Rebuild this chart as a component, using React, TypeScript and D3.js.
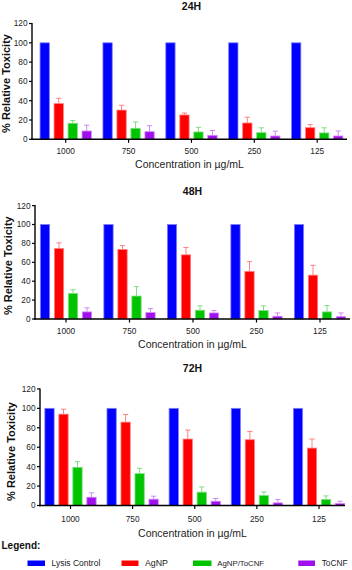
import React from "react";
import * as d3 from "d3";

const categories = ["1000", "750", "500", "250", "125"];
const seriesNames = ["Lysis Control", "AgNP", "AgNP/ToCNF", "ToCNF"];
const yTicks = [0, 20, 40, 60, 80, 100, 120];

// 24H
const lysis24 = [100, 100, 100, 100, 100];
const agnp24 = [37, 30.3, 25.2, 16.9, 12];
const agnp24Err = [5.5, 5, 2, 6, 3.2];
const combo24 = [16.6, 11.4, 7.6, 6.9, 6.6];
const combo24Err = [2.8, 6.5, 4.8, 5, 5.3];
const tocnf24 = [8.6, 7.9, 4.1, 3.4, 3.4];
const tocnf24Err = [6, 6.2, 5, 5, 5.2];

// 48H
const lysis48 = [100, 100, 100, 100, 100];
const agnp48 = [74.6, 73.6, 67.9, 50.4, 46.4];
const agnp48Err = [6, 4, 7.8, 10.3, 10.4];
const combo48 = [27.1, 24.3, 9.3, 8.9, 7.5];
const combo48Err = [3.9, 10, 4.6, 5, 6.8];
const tocnf48 = [7.5, 6.8, 6.4, 2.9, 2.5];
const tocnf48Err = [4.3, 4.2, 2.5, 3.5, 3.9];

// 72H
const lysis72 = [100, 100, 100, 100, 100];
const agnp72 = [94, 85.8, 68.4, 67.7, 59.1];
const agnp72Err = [5.1, 7.9, 9.2, 8.5, 9.3];
const combo72 = [39.3, 32.8, 13.7, 10.3, 6.2];
const combo72Err = [5.8, 5.5, 5.4, 3.7, 3.7];
const tocnf72 = [8.5, 6.5, 4.4, 2.7, 2];
const tocnf72Err = [4.5, 3.1, 2.8, 3.5, 2.4];

const colors = ["#0000ff", "#ff0000", "#00c400", "#a010ee"];
const lightColors = ["#8080ff", "#ff8080", "#80dd80", "#d088f6"];

const FONT = "'Liberation Sans', Arial, sans-serif";

const panels = [
  {
    title: "24H",
    values: [lysis24, agnp24, combo24, tocnf24],
    errors: [null, agnp24Err, combo24Err, tocnf24Err],
    axisX: 32, xEnd: 347, y0: 139.3, y120: 23.5,
    c0: 65.7, c4: 317.2,
    titleY: 9.5, titleX: 191.5, tickLabelY: 153.5, xLabelY: 168, yLabelX: 6.5, yLabelY: 83.5,
  },
  {
    title: "48H",
    values: [lysis48, agnp48, combo48, tocnf48],
    errors: [null, agnp48Err, combo48Err, tocnf48Err],
    axisX: 35, xEnd: 350, y0: 319, y120: 205.6,
    c0: 66, c4: 320,
    titleY: 194.5, titleX: 192.5, tickLabelY: 333.5, xLabelY: 348, yLabelX: 8.5, yLabelY: 265.7,
  },
  {
    title: "72H",
    values: [lysis72, agnp72, combo72, tocnf72],
    errors: [null, agnp72Err, combo72Err, tocnf72Err],
    axisX: 40, xEnd: 345, y0: 505.5, y120: 388.9,
    c0: 70.5, c4: 319,
    titleY: 372, titleX: 192.5, tickLabelY: 521.5, xLabelY: 537, yLabelX: 11.5, yLabelY: 451.5,
  },
];

const BAR_W = 9.3;
const BAR_STEP = 14;

function Panel({ p }: { p: typeof panels[number] }) {
  const y = d3.scaleLinear().domain([0, 120]).range([p.y0, p.y120]);
  const x = d3
    .scalePoint<string>()
    .domain(categories)
    .range([p.c0, p.c4]);
  const inner = d3
    .scalePoint<number>()
    .domain([0, 1, 2, 3])
    .range([-1.5 * BAR_STEP, 1.5 * BAR_STEP]);

  return (
    <g>
      <text x={p.titleX} y={p.titleY} textAnchor="middle" fontFamily={FONT} fontWeight="bold" fontSize={10.5} fill="#111">
        {p.title}
      </text>
      {/* bars */}
      {p.values.map((vals, si) =>
        vals.map((v, ci) => {
          const cx = (x(categories[ci]) as number) + (inner(si) as number);
          const err = p.errors[si];
          const top = y(v);
          return (
            <g key={`${si}-${ci}`}>
              {err && (
                <g stroke={lightColors[si]} strokeWidth={1}>
                  <line x1={cx} x2={cx} y1={top} y2={y(v + err[ci])} />
                  <line x1={cx - 2.6} x2={cx + 2.6} y1={y(v + err[ci])} y2={y(v + err[ci])} />
                </g>
              )}
              <rect
                x={cx - BAR_W / 2}
                y={top}
                width={BAR_W}
                height={p.y0 - top}
                fill={colors[si]}
                stroke={lightColors[si]}
                strokeWidth={0.8}
              />
            </g>
          );
        })
      )}
      {/* y axis */}
      <line x1={p.axisX} x2={p.axisX} y1={y(120) - 0.5} y2={p.y0 + 0.7} stroke="#000" strokeWidth={1.4} />
      {yTicks.map((t) => (
        <g key={t}>
          <line x1={p.axisX - 3} x2={p.axisX} y1={y(t)} y2={y(t)} stroke="#000" strokeWidth={1.2} />
          <text x={p.axisX - 4.5} y={y(t)} dy="0.35em" textAnchor="end" fontFamily={FONT} fontSize={8.3} fill="#222">
            {t}
          </text>
        </g>
      ))}
      {/* x axis */}
      <line x1={p.axisX - 0.7} x2={p.xEnd} y1={p.y0} y2={p.y0} stroke="#000" strokeWidth={1.4} />
      {categories.map((c) => (
        <g key={c}>
          <line x1={x(c) as number} x2={x(c) as number} y1={p.y0} y2={p.y0 + 3.5} stroke="#000" strokeWidth={1.2} />
          <text x={x(c) as number} y={p.tickLabelY} textAnchor="middle" fontFamily={FONT} fontSize={8.3} fill="#222">
            {c}
          </text>
        </g>
      ))}
      <text x={(p.axisX + p.xEnd) / 2} y={p.xLabelY} textAnchor="middle" fontFamily={FONT} fontSize={10.5} fill="#222">
        Concentration in µg/mL
      </text>
      <text
        transform={`translate(${p.yLabelX},${p.yLabelY}) rotate(-90)`}
        textAnchor="middle"
        dy="0.35em"
        fontFamily={FONT}
        fontWeight="bold"
        fontSize={11}
        fill="#111"
      >
        % Relative Toxicity
      </text>
    </g>
  );
}

const legendPos = [
  { sx: 27.5, sw: 17.5, tx: 51.5, fs: 8.5 },
  { sx: 121.5, sw: 17, tx: 145, fs: 8.8 },
  { sx: 193, sw: 18.5, tx: 217.3, fs: 7.8 },
  { sx: 298.3, sw: 16.7, tx: 321.7, fs: 8.3 },
];

export default function App() {
  return (
    <svg width={352} height={570} style={{ position: "absolute", left: 0, top: 0, background: "#fff" }}>
      {panels.map((p) => (
        <Panel key={p.title} p={p} />
      ))}
      <text x={1.5} y={549} fontFamily={FONT} fontWeight="bold" fontSize={10} fill="#111">
        Legend:
      </text>
      {seriesNames.map((s, i) => (
        <g key={s}>
          <rect x={legendPos[i].sx} y={560.5} width={legendPos[i].sw} height={5.5} fill={colors[i]} />
          <text x={legendPos[i].tx} y={563.3} dy="0.35em" fontFamily={FONT} fontSize={legendPos[i].fs} fill="#222">
            {s}
          </text>
        </g>
      ))}
    </svg>
  );
}
